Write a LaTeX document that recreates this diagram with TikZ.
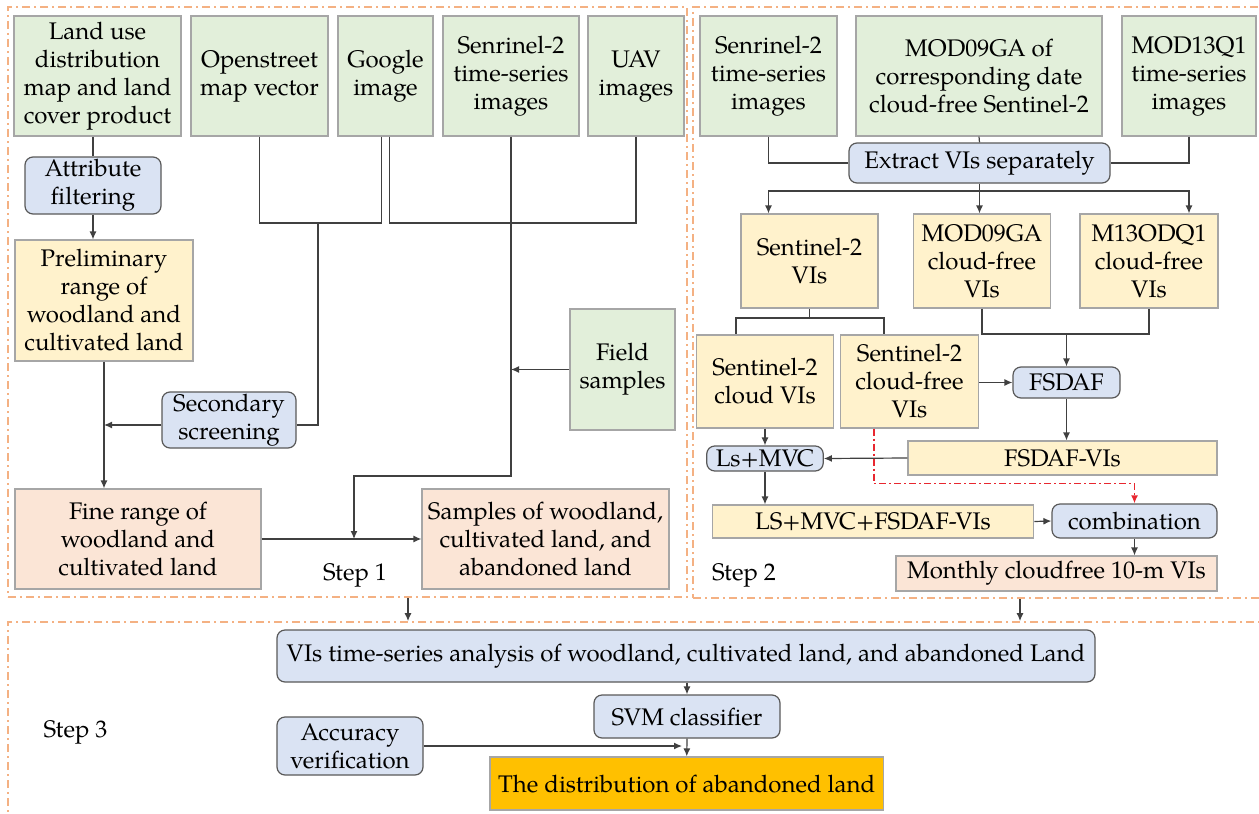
\documentclass[tikz,border=0pt]{standalone}
\usepackage{fontspec}
\setmainfont{TeX Gyre Pagella}
\usepackage{tikz}
\usetikzlibrary{arrows.meta}

\definecolor{srcgreen}{HTML}{E2EFDA}
\definecolor{viyellow}{HTML}{FFF2CC}
\definecolor{respink}{HTML}{FBE5D6}
\definecolor{procblue}{HTML}{DAE3F3}
\definecolor{finalorange}{HTML}{FFC000}
\definecolor{frameorange}{HTML}{F4B183}
\definecolor{boxgray}{HTML}{A6A6A6}
\definecolor{procgray}{HTML}{595959}
\definecolor{linkgray}{HTML}{404040}
\definecolor{redlinkcol}{HTML}{E8272F}

\tikzset{
  box/.style={draw=boxgray, line width=0.6pt, inner sep=0pt, align=center},
  srcbox/.style={box, fill=srcgreen},
  vibox/.style={box, fill=viyellow},
  resbox/.style={box, fill=respink},
  procbox/.style={box, draw=procgray, fill=procblue, rounded corners=4pt},
  frame/.style={draw=frameorange, line width=0.9pt, dash pattern=on 4pt off 2pt on 1pt off 2pt},
  link/.style={draw=linkgray, line width=0.6pt},
  redlink/.style={draw=redlinkcol, line width=0.75pt, dash pattern=on 3.5pt off 1.5pt on 1pt off 1.5pt},
  >={Latex[length=4pt,width=3.5pt]}
}

\begin{document}
\begin{tikzpicture}[x=0.5pt,y=-0.5pt,font=\fontsize{12}{14}\selectfont]
\useasboundingbox (0,0) rectangle (1259,814);
\clip (0,0) rectangle (1259,814);

% step frames
\node[frame, minimum width=339.5pt, minimum height=295pt] (frameI) at (347.5,302) {};
\node[frame, minimum width=286pt, minimum height=295.5pt] (frameII) at (979,302.5) {};
\node[frame, minimum width=628.5pt, minimum height=104pt] (frameIII) at (636.5,726) {};
\node (stepI) at (355,575) {Step 1};
\node (stepII) at (744,575) {Step 2};
\node (stepIII) at (75.5,732) {Step 3};

% step 1
\node[srcbox, minimum width=83.5pt, minimum height=60pt] (landuse) at (97.5,76) {Land use\\distribution\\map and land\\cover product};
\node[srcbox, minimum width=68.5pt, minimum height=60pt] (osm) at (259.5,76) {Openstreet\\map vector};
\node[srcbox, minimum width=47.5pt, minimum height=60pt] (google) at (385.5,76) {Google\\image};
\node[srcbox, minimum width=68pt, minimum height=60pt] (senI) at (511,76) {Senrinel-2\\time-series\\images};
\node[srcbox, minimum width=48pt, minimum height=60pt] (uav) at (636,76) {UAV\\images};
\node[procbox, minimum width=68pt, minimum height=28.5pt] (attr) at (93,185.5) {Attribute\\filtering};
\node[vibox, minimum width=89pt, minimum height=60.5pt] (prelim) at (104,300.5) {Preliminary\\range of\\woodland and\\cultivated land};
\node[procbox, minimum width=67pt, minimum height=28pt] (second) at (229,420) {Secondary\\screening};
\node[srcbox, minimum width=52.5pt, minimum height=60.5pt] (field) at (622.5,369.5) {Field\\samples};
\node[resbox, minimum width=123pt, minimum height=50pt] (fine) at (138,539) {Fine range of\\woodland and\\cultivated land};
\node[resbox, minimum width=123.5pt, minimum height=50pt] (samples) at (545.5,539) {Samples of woodland,\\cultivated land, and\\abandoned land};

% step 2
\node[srcbox, minimum width=68.5pt, minimum height=60pt] (senII) at (768.5,76) {Senrinel-2\\time-series\\images};
\node[srcbox, minimum width=123pt, minimum height=60pt] (modga) at (979,76) {MOD09GA of\\corresponding date\\cloud-free Sentinel-2};
\node[srcbox, minimum width=67pt, minimum height=60pt] (modq) at (1189,76) {MOD13Q1\\time-series\\images};
\node[procbox, minimum width=130.5pt, minimum height=20pt] (extract) at (979.5,163) {Extract VIs separately};
\node[vibox, minimum width=68.5pt, minimum height=47pt] (senvi) at (809.5,261) {Sentinel-2\\VIs};
\node[vibox, minimum width=68.75pt, minimum height=47pt] (modgavi) at (982,261) {MOD09GA\\cloud-free\\VIs};
\node[vibox, minimum width=69pt, minimum height=47pt] (modqvi) at (1149,261) {M13ODQ1\\cloud-free\\VIs};
\node[vibox, minimum width=68.75pt, minimum height=46.5pt] (sencloud) at (765,381.5) {Sentinel-2\\cloud VIs};
\node[vibox, minimum width=69pt, minimum height=46.5pt] (senfree) at (909.5,381.5) {Sentinel-2\\cloud-free\\VIs};
\node[procbox, minimum width=53.5pt, minimum height=15.5pt] (fsdaf) at (1066.5,382.5) {FSDAF};
\node[vibox, minimum width=154.5pt, minimum height=17pt] (fsdafvi) at (1062.5,458) {FSDAF-VIs};
\node[procbox, minimum width=58.25pt, minimum height=12.5pt] (lsmvc) at (765,458.5) {Ls+MVC};
\node[vibox, minimum width=160.75pt, minimum height=16.5pt] (mixvi) at (873,521.5) {LS+MVC+FSDAF-VIs};
\node[procbox, minimum width=82.5pt, minimum height=17pt] (combo) at (1134.5,521) {combination};
\node[resbox, minimum width=160.5pt, minimum height=17.5pt] (monthly) at (1056.5,573.5) {Monthly cloudfree 10-m VIs};

% step 3
\node[procbox, minimum width=409pt, minimum height=26pt] (series) at (686,656) {VIs time-series analysis of woodland, cultivated land, and abandoned Land};
\node[procbox, minimum width=93pt, minimum height=21.5pt] (svm) at (687,716.5) {SVM classifier};
\node[procbox, minimum width=73pt, minimum height=29pt] (accuracy) at (350,746) {Accuracy\\verification};
\node[box, fill=finalorange, minimum width=196.75pt, minimum height=26.5pt] (result) at (686.75,783.5) {The distribution of abandoned land};

% draw the connections
\draw[link] (landuse.south -| attr.north) -- (attr.north);
\draw[link,->] (attr.south) -- (attr.south |- prelim.north);
\coordinate (mergeI) at (318,223);
\draw[link] ([xshift=-2pt]google.south) |- (mergeI) -| (osm.south);
\draw[link] (mergeI) |- ([yshift=-2.5pt]second.east);
\draw[link,->] ([yshift=-2.5pt]second.west) -- ([yshift=-2.5pt]second.west -| prelim.south);
\draw[link,->] (prelim.south) -- (prelim.south |- fine.north);
\draw[link] ([xshift=2pt]google.south) |- (mergeI -| uav.south) -- (uav.south);
\coordinate (mergeII) at (354,476);
\draw[link,->] (senI.south) |- (mergeII) -- (mergeII |- samples.west);
\draw[link,->] (field.west) -- (field.west -| senI.south);
\draw[link,->] (fine.east) -- (samples.west);

\draw[link] (senII.south) |- (extract.west);
\draw[link] (modga.south) -- (extract.north);
\draw[link] (modq.south) |- (extract.east);
\coordinate (splitI) at (979.5,191);
\draw[link] (extract.south) -- (splitI);
\draw[link,->] (splitI) -| (senII.south |- senvi.north);
\draw[link,->] (splitI) -| (modq.south |- modqvi.north);
\draw[link,->] (splitI) -- (splitI |- modgavi.north);
\coordinate (splitII) at (809.5,318);
\draw[link] (senvi.south) -- (splitII);
\draw[link] (splitII) -| ([xshift=-14.5pt]sencloud.north);
\draw[link] (splitII) -| ([xshift=-12.75pt]senfree.north);
\coordinate (mergeIII) at (1066.5,334);
\draw[link] (modgavi.south) |- (mergeIII) -| (modqvi.south);
\draw[link,->] (mergeIII) -- (fsdaf.north);
\draw[link,->] (senfree.east |- fsdaf.west) -- (fsdaf.west);
\draw[link,->] (fsdaf.south) -- (fsdaf.south |- fsdafvi.north);
\draw[link,->] (fsdafvi.west) -- (lsmvc.east);
\draw[link,->] (sencloud.south) -- (lsmvc.north);
\draw[link,->] (lsmvc.south) -- (lsmvc.south |- mixvi.north);
\draw[link,->] (mixvi.east) -- (combo.west);
\draw[redlink,->] ([xshift=-17.75pt]senfree.south) |- ([yshift=10pt]combo.north) -- (combo.north);
\draw[link,->] (combo.south) -- (combo.south |- monthly.north);

\draw[link,->] ([xshift=30.25pt]frameI.south) -- ([xshift=30.25pt]frameI.south |- frameIII.north);
\draw[link,->] ([xshift=20.5pt]frameII.south) -- ([xshift=20.5pt]frameII.south |- frameIII.north);
\draw[link,->] (series.south -| svm.north) -- (svm.north);
\draw[link,->] (svm.south) -- (result.north);
\draw[link,->] (accuracy.east) -- ([xshift=-2.5pt]accuracy.east -| svm.south);
\end{tikzpicture}
\end{document}
